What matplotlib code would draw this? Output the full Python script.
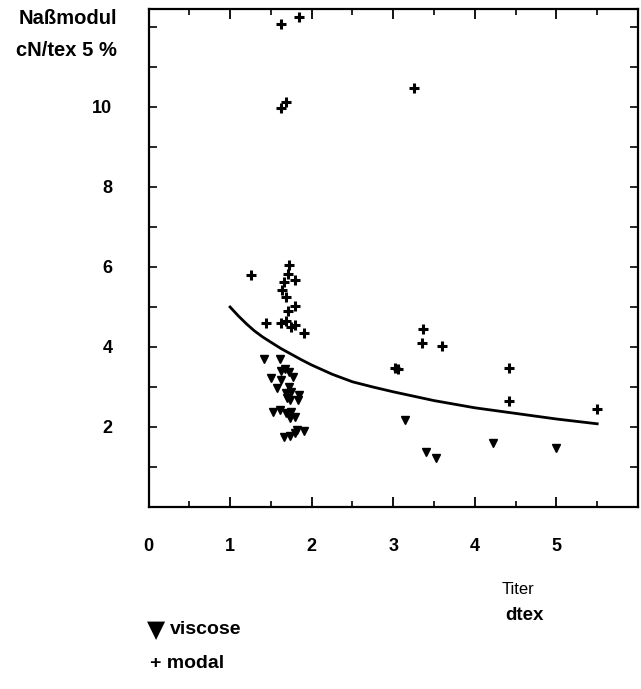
import numpy as np
import matplotlib
matplotlib.use("Agg")
import matplotlib.pyplot as plt

plt.rcParams['font.family'] = ['Liberation Sans', 'DejaVu Sans']

# modal fibres (+)
modal_x = [1.62, 1.85, 1.62, 1.69, 3.26, 1.26, 1.72, 1.71, 1.79, 1.66, 1.64, 1.68,
           1.79, 1.71, 1.44, 1.62, 1.69, 1.75, 1.79, 1.91, 3.02, 3.06, 3.36, 3.35,
           3.60, 4.42, 4.42, 5.50]
modal_y = [12.07, 12.26, 9.97, 10.12, 10.47, 5.80, 6.05, 5.82, 5.67, 5.62, 5.42, 5.26,
           5.02, 4.91, 4.61, 4.61, 4.66, 4.49, 4.54, 4.34, 3.48, 3.44, 4.44, 4.11,
           4.03, 3.48, 2.65, 2.45]

# viscose fibres (triangles)
visc_x = [1.41, 1.61, 1.62, 1.67, 1.72, 1.77, 1.50, 1.62, 1.57, 1.72, 1.69, 1.75,
          1.85, 1.70, 1.74, 1.83, 1.53, 1.61, 1.68, 1.75, 1.73, 1.80, 1.82, 1.90,
          1.66, 1.74, 1.79, 3.14, 3.40, 3.52, 4.22, 5.00]
visc_y = [3.70, 3.70, 3.40, 3.45, 3.37, 3.26, 3.22, 3.18, 2.98, 3.01, 2.84, 2.88,
          2.80, 2.72, 2.68, 2.68, 2.38, 2.43, 2.34, 2.38, 2.23, 2.26, 1.93, 1.90,
          1.76, 1.78, 1.84, 2.18, 1.37, 1.23, 1.59, 1.47]

# trend curve
curve_x = [1.0, 1.1, 1.2, 1.3, 1.4, 1.5, 1.625, 1.75, 1.875, 2.0, 2.25, 2.5,
           2.75, 3.0, 3.5, 4.0, 4.5, 5.0, 5.5]
curve_y = [5.0, 4.78, 4.58, 4.40, 4.25, 4.12, 3.96, 3.82, 3.68, 3.55, 3.32, 3.13,
           3.0, 2.88, 2.66, 2.48, 2.34, 2.2, 2.08]

xticks = [0, 1, 2, 3, 4, 5]
xticklabels = ["0", "1", "2", "3", "4", "5"]
yticks = [1, 2, 3, 4, 5, 6, 7, 8, 9, 10, 11, 12]
yticklabels = ["", "2", "", "4", "", "6", "", "8", "", "10", "", ""]

fig = plt.figure(figsize=(6.41, 6.89), dpi=100, facecolor="w")
ax = fig.add_axes([148.5 / 641, 1 - 507 / 689, 489.5 / 641, 498 / 689])

ax.plot(curve_x, curve_y, c='k', lw=2)
ax.plot(modal_x, modal_y, ls='none', marker='+', ms=7.5, mew=2.2, c='k')
ax.plot(visc_x, visc_y, ls='none', marker='v', ms=5.5, c='k')

ax.set_xlim(0, 6)
ax.set_ylim(0, 12.45)
for s in ax.spines.values():
    s.set_linewidth(1.6)

ax.set_xticks(xticks)
ax.set_xticklabels(xticklabels, fontsize=13, fontweight='bold')
ax.set_xticks(np.arange(0.5, 6, 1.0), minor=True)
ax.set_yticks(yticks)
ax.set_yticklabels(yticklabels, fontsize=13, fontweight='bold')
ax.tick_params(axis='x', which='major', direction='in', length=7, width=1.3,
               top=True, pad=22)
ax.tick_params(axis='x', which='minor', direction='in', length=4, width=1.2,
               top=True)
ax.tick_params(axis='y', which='major', direction='in', length=6, width=1.2,
               right=True, pad=26)

fig.text(117 / 641, 1 - 18 / 689, "Naßmodul", ha="right", va="center",
         fontsize=14.5, fontweight='bold')
fig.text(117 / 641, 1 - 50 / 689, "cN/tex 5 %", ha="right", va="center",
         fontsize=14.5, fontweight='bold')
fig.text(518 / 641, 1 - 590 / 689, "Titer", ha="center", va="center",
         fontsize=12)
fig.text(524 / 641, 1 - 615 / 689, "dtex", ha="center", va="center",
         fontsize=13.5, fontweight='bold')
fig.text(147 / 641, 1 - 630 / 689, "▼", ha="left", va="center",
         fontsize=17, family=['DejaVu Sans'])
fig.text(170 / 641, 1 - 630 / 689, "viscose", ha="left", va="center",
         fontsize=14, fontweight='bold')
fig.text(150 / 641, 1 - 663 / 689, "+ modal", ha="left", va="center",
         fontsize=14, fontweight='bold')

plt.savefig("out.png", dpi=100, facecolor="w")
